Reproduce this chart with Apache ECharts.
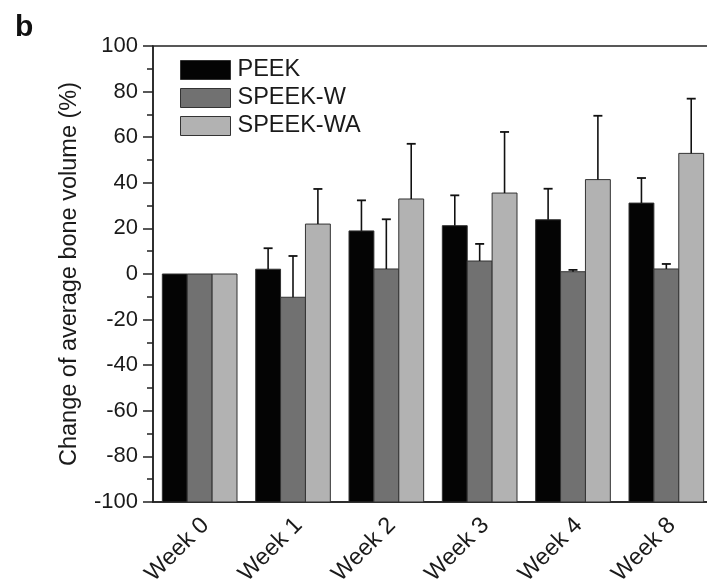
<!DOCTYPE html>
<html>
<head>
<meta charset="utf-8">
<script src="https://cdn.jsdelivr.net/npm/echarts@6/dist/echarts.min.js"></script>
<style>
html, body { margin: 0; padding: 0; background: #fff; }
#chart { width: 707px; height: 584px; }
</style>
</head>
<body>
<div id="chart"></div>
<script>
var weeks = ['Week 0', 'Week 1', 'Week 2', 'Week 3', 'Week 4', 'Week 8'];
var names = ['PEEK', 'SPEEK-W', 'SPEEK-WA'];
var peek = [0, 2.1, 18.9, 21.2, 23.8, 31.1];
var peekErr = [0, 9.2, 13.4, 13.3, 13.6, 11.0];
var speekW = [0, -10.2, 2.2, 5.7, 1.0, 2.2];
var speekWErr = [0, 18.1, 21.8, 7.5, 0.8, 2.2];
var speekWA = [0, 21.9, 32.9, 35.5, 41.4, 52.9];
var speekWAErr = [0, 15.4, 24.2, 26.8, 28.0, 24.0];
var yMin = -100, yMax = 100;

var colors = ['#040404', '#717171', '#b2b2b2'];
var font = 'Liberation Sans, Arial, sans-serif';
var ink = '#1a1a1a';

function rows(vals, errs) {
    return vals.map(function (v, i) { return [i, v, errs[i]]; });
}

// bar from the bottom of the axis up to the value, plus an upper error bar
function makeRender(k) {
    return function (params, api) {
        var i = api.value(0), v = api.value(1), e = api.value(2);
        var band = api.size([1, 0])[0];
        var bw = band * 0.8 / 3;
        var c = api.coord([i, v]);
        var x0 = c[0] + (k - 1.5) * bw;
        var base = api.coord([i, yMin])[1];
        var kids = [{
            type: 'rect',
            shape: { x: x0, y: c[1], width: bw, height: base - c[1] },
            style: { fill: colors[k], stroke: '#333', lineWidth: 1 }
        }];
        if (e > 0) {
            var t = api.coord([i, v + e])[1];
            var xm = x0 + bw / 2;
            kids.push({
                type: 'line',
                shape: { x1: xm, y1: c[1], x2: xm, y2: t },
                style: { stroke: '#111', lineWidth: 1.6 }
            });
            kids.push({
                type: 'line',
                shape: { x1: xm - 4.5, y1: t, x2: xm + 4.5, y2: t },
                style: { stroke: '#111', lineWidth: 1.8 }
            });
        }
        return { type: 'group', children: kids };
    };
}

var chart = echarts.init(document.getElementById('chart'));
var series = [[peek, peekErr], [speekW, speekWErr], [speekWA, speekWAErr]].map(function (d, k) {
    return {
        name: names[k],
        type: 'custom',
        renderItem: makeRender(k),
        encode: { x: 0, y: 1 },
        itemStyle: { color: colors[k], borderColor: '#333', borderWidth: 1 },
        data: rows(d[0], d[1])
    };
});

var gridBox = { left: 153, top: 46, width: 560, height: 456, outerBoundsMode: 'none' };

chart.setOption({
    animation: false,
    title: {
        text: 'b', left: 10, top: 8,
        textStyle: { fontFamily: font, fontSize: 30, fontWeight: 'bold', color: '#111' }
    },
    legend: {
        data: names,
        orient: 'vertical',
        left: 180, top: 58,
        padding: 0,
        icon: 'rect',
        itemWidth: 50, itemHeight: 19, itemGap: 4,
        itemStyle: { borderColor: '#333', borderWidth: 1 },
        textStyle: { fontFamily: font, fontSize: 23.5, color: ink, padding: [0, 0, 0, 2] }
    },
    grid: [
        Object.assign({ show: true, borderColor: '#222', borderWidth: 1.5 }, gridBox),
        Object.assign({}, gridBox)
    ],
    xAxis: [{
        type: 'category',
        data: weeks,
        axisLine: { onZero: false, lineStyle: { color: '#222', width: 1.5 } },
        axisTick: { alignWithLabel: true, length: 7, lineStyle: { color: '#222', width: 1.5 } },
        axisLabel: {
            rotate: 45, margin: 14, verticalAlign: 'top', lineHeight: 16,
            fontFamily: font, fontSize: 23.5, color: ink
        }
    }, {
        // boundary ticks between the weeks
        gridIndex: 1,
        type: 'category',
        data: weeks,
        axisLine: { show: false, onZero: false },
        axisTick: { length: 4, lineStyle: { color: '#222', width: 1.5 } },
        axisLabel: { show: false }
    }],
    yAxis: [{
        type: 'value',
        min: yMin, max: yMax, interval: 20,
        name: 'Change of average bone volume (%)',
        nameLocation: 'middle',
        nameGap: 71,
        nameTextStyle: { fontFamily: font, fontSize: 23.5, color: ink },
        axisLine: { show: true, onZero: false, lineStyle: { color: '#222', width: 1.5 } },
        axisTick: { show: true, length: 10, lineStyle: { color: '#222', width: 1.5 } },
        minorTick: { show: true, splitNumber: 2, length: 6, lineStyle: { color: '#222', width: 1.5 } },
        splitLine: { show: false },
        axisLabel: { margin: 15, fontFamily: font, fontSize: 22, color: ink }
    }, {
        gridIndex: 1,
        type: 'value',
        min: yMin, max: yMax,
        show: false
    }],
    series: series
});
</script>
</body>
</html>
